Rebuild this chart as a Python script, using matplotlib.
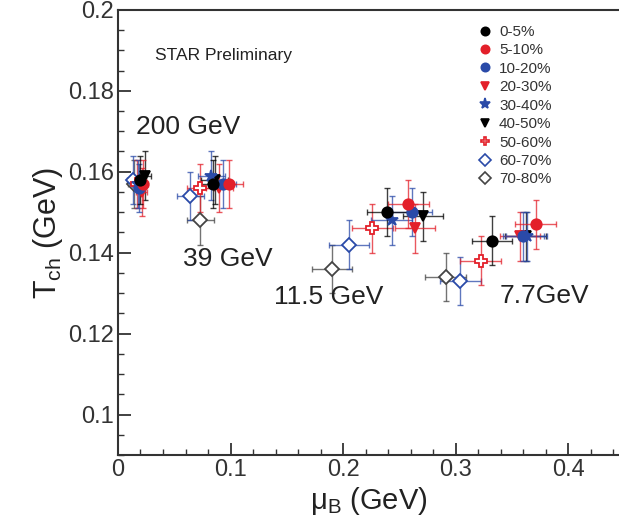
import matplotlib.pyplot as plt
from matplotlib.lines import Line2D
from matplotlib.ticker import MultipleLocator, FormatStrFormatter

plt.rcParams['font.family'] = ['Liberation Sans', 'DejaVu Sans']

# Centrality classes and their styles
centralities = ['0-5%', '5-10%', '10-20%', '20-30%', '30-40%',
                '40-50%', '50-60%', '60-70%', '70-80%']
colors = ['black', '#e3202a', '#2a4aa8', '#e3202a', '#2a4aa8',
          'black', '#e3202a', '#2a4aa8', '#444444']
markers = ['o', 'o', 'o', 'v', '*', 'v', 'P', 'D', 'D']
filled = [True, True, True, True, True, True, False, False, False]

# 200 GeV
mu_200 = [0.020, 0.022, 0.019, 0.021, 0.018, 0.024, 0.017, 0.013, 0.014]
t_200 = [0.158, 0.157, 0.156, 0.155, 0.157, 0.159, 0.157, 0.158, 0.157]
# 39 GeV
mu_39 = [0.084, 0.099, 0.093, 0.090, 0.083, 0.086, 0.073, 0.064, 0.073]
t_39 = [0.157, 0.157, 0.157, 0.156, 0.159, 0.158, 0.156, 0.154, 0.148]
# 11.5 GeV
mu_115 = [0.239, 0.258, 0.261, 0.264, 0.243, 0.271, 0.226, 0.205, 0.190]
t_115 = [0.150, 0.152, 0.150, 0.146, 0.148, 0.149, 0.146, 0.142, 0.136]
# 7.7 GeV
mu_77 = [0.332, 0.371, 0.360, 0.357, 0.363, 0.362, 0.322, 0.304, 0.291]
t_77 = [0.143, 0.147, 0.144, 0.144, 0.144, 0.144, 0.138, 0.133, 0.134]

# errors (per energy, roughly)
xerr_200 = 0.005
yerr_200 = 0.006
xerr_39 = 0.012
yerr_39 = 0.006
xerr_115 = 0.018
yerr_115 = 0.006
xerr_77 = 0.018
yerr_77 = 0.006

energy_labels = ['200 GeV', '39 GeV', '11.5 GeV', '7.7GeV']
label_x = [0.016, 0.058, 0.139, 0.339]
label_y = [0.171, 0.1385, 0.129, 0.1294]

fig = plt.figure(figsize=(6.19, 5.25), dpi=100)
ax = fig.add_axes([0.1906, 0.1333, 0.8094, 0.848])

datasets = [(mu_200, t_200, xerr_200, yerr_200),
            (mu_39, t_39, xerr_39, yerr_39),
            (mu_115, t_115, xerr_115, yerr_115),
            (mu_77, t_77, xerr_77, yerr_77)]

# draw higher centralities first so the central ones sit on top
for mu, t, xe, ye in datasets:
    for i in reversed(range(len(centralities))):
        c = colors[i]
        ax.errorbar(mu[i], t[i], xerr=xe, yerr=ye, fmt='none', ecolor=c,
                    elinewidth=1, capsize=2, alpha=0.75, zorder=2)
        ms = {'o': 7.5, 'v': 6.5, '*': 9, 'P': 8, 'D': 7}[markers[i]]
        ax.plot(mu[i], t[i], linestyle='none', marker=markers[i],
                markersize=ms,
                markerfacecolor=c if filled[i] else 'white',
                markeredgecolor=c, markeredgewidth=1.3, zorder=3)

for lab, x, y in zip(energy_labels, label_x, label_y):
    ax.text(x, y, lab, fontsize=19, va='center', ha='left', color='#222222')

ax.text(0.033, 0.1888, 'STAR Preliminary', fontsize=12.5, va='center',
        color='#222222')

handles = []
for i, lab in enumerate(centralities):
    handles.append(Line2D([], [], linestyle='none', marker=markers[i],
                          markersize=6 if markers[i] != '*' else 8,
                          markerfacecolor=colors[i] if filled[i] else 'white',
                          markeredgecolor=colors[i], markeredgewidth=1.2,
                          label=lab))
ax.legend(handles=handles, loc='upper left', bbox_to_anchor=(0.695, 0.99),
          frameon=False, fontsize=11, handlelength=1.0, handletextpad=0.45,
          labelspacing=0.29, borderpad=0.2, labelcolor='#333333')

ax.set_xlim(0, 0.445)
ax.set_ylim(0.09, 0.2)
ax.xaxis.set_major_locator(MultipleLocator(0.1))
ax.xaxis.set_minor_locator(MultipleLocator(0.02))
ax.yaxis.set_major_locator(MultipleLocator(0.02))
ax.yaxis.set_minor_locator(MultipleLocator(0.005))
ax.xaxis.set_major_formatter(FormatStrFormatter('%g'))
ax.yaxis.set_major_formatter(FormatStrFormatter('%g'))
ax.set_yticks([0.1, 0.12, 0.14, 0.16, 0.18, 0.2])
ax.tick_params(which='major', direction='in', length=9, width=1.3,
               labelsize=17, pad=3, colors='#333333')
ax.tick_params(which='minor', direction='in', length=4, width=1.0,
               colors='#333333')
ax.tick_params(axis='x', which='both', top=False)
ax.tick_params(axis='y', which='both', right=False)

for s in ax.spines.values():
    s.set_linewidth(1.5)
    s.set_color('#333333')
ax.spines['right'].set_visible(False)

ax.set_ylabel(r'T$_{\mathregular{ch}}$ (GeV)', fontsize=22, color='#222222',
              labelpad=2)
ax.set_xlabel(r'$\mathregular{\mu}_{\mathregular{B}}$ (GeV)', fontsize=21,
              color='#222222', labelpad=3)

fig.savefig('out.png', dpi=100)
